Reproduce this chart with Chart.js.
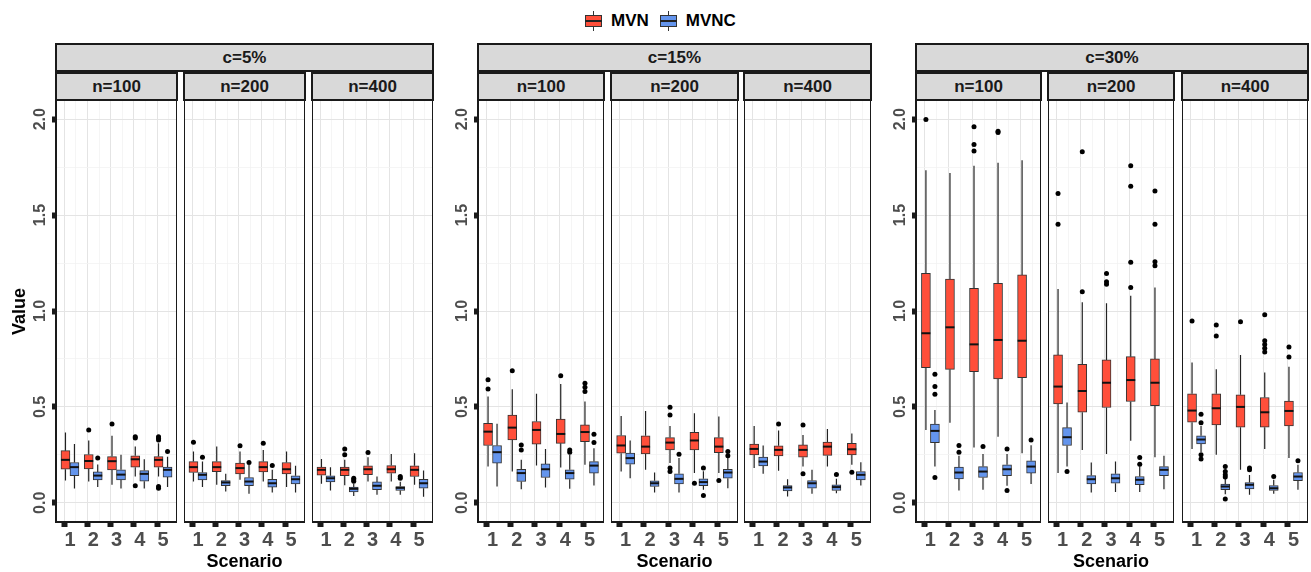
<!DOCTYPE html>
<html>
<head>
<meta charset="utf-8">
<script src="https://cdn.jsdelivr.net/npm/chart.js@4"></script>
<style>
  body { margin: 0; background: #fff; font-family: "Liberation Sans", Arial, sans-serif; }
  #wrap { position: relative; width: 1311px; height: 572px; overflow: hidden; }
  .strip { position: absolute; box-sizing: border-box; background: #d9d9d9; border: 2px solid #1a1a1a;
           font-weight: bold; font-size: 17px; color: #1a1a1a; display: flex; align-items: center; justify-content: center; }
  .lab { position: absolute; font-weight: bold; font-size: 18px; color: #000; white-space: nowrap; }
  #legend { position: absolute; left: 585px; top: 10px; height: 22px; display: flex; align-items: center;
            font-weight: bold; font-size: 17px; color: #000; }
  .key { position: relative; width: 17px; height: 20px; margin-right: 9px; }
  .key .wh { position: absolute; left: 8px; top: 0; width: 1px; height: 20px; background: #333; }
  .key .bx { position: absolute; left: 0; top: 4px; width: 17px; height: 12px; box-sizing: border-box; border: 1px solid #333; }
  .key .md { position: absolute; left: 0; top: 9px; width: 17px; height: 2px; background: #222; }
</style>
</head>
<body>
<div id="wrap">
  <div id="legend">
    <div class="key"><div class="wh"></div><div class="bx" style="background:#FF4F3A"></div><div class="md"></div></div>
    <span style="margin-right:11px">MVN</span>
    <div class="key"><div class="wh"></div><div class="bx" style="background:#6495ED"></div><div class="md"></div></div>
    <span>MVNC</span>
  </div>
</div>
<script>
const scenarios = [1, 2, 3, 4, 5];
const groupLabels = ['c=5%', 'c=15%', 'c=30%'];
const sizeLabels = ['n=100', 'n=200', 'n=400'];
const methods = ['MVN', 'MVNC'];

// each scenario: [lower whisker, Q1, median, Q3, upper whisker]
const c5_n100_mvn = [[0.116,0.175,0.224,0.272,0.366],[0.111,0.177,0.218,0.252,0.325],[0.094,0.172,0.217,0.241,0.349],[0.137,0.186,0.227,0.245,0.293],[0.137,0.186,0.224,0.241,0.31]];
const c5_n100_mvn_out = [[],[0.38],[0.411],[0.345,0.338,0.089],[0.345,0.337,0.328,0.085,0.076]];
const c5_n100_mvnc = [[0.075,0.142,0.186,0.21,0.307],[0.082,0.12,0.142,0.161,0.2],[0.075,0.12,0.147,0.172,0.25],[0.075,0.113,0.151,0.168,0.227],[0.082,0.134,0.172,0.186,0.24]];
const c5_n100_mvnc_out = [[],[0.233],[],[],[0.267]];

const c5_n200_mvn = [[0.111,0.158,0.186,0.215,0.267],[0.094,0.163,0.186,0.215,0.293],[0.12,0.151,0.181,0.207,0.267],[0.111,0.161,0.186,0.215,0.276],[0.082,0.151,0.175,0.21,0.267]];
const c5_n200_mvn_out = [[0.316],[],[0.297],[0.31],[]];
const c5_n200_mvnc = [[0.082,0.12,0.146,0.158,0.215],[0.059,0.089,0.106,0.116,0.151],[0.047,0.089,0.111,0.132,0.198],[0.054,0.082,0.102,0.123,0.172],[0.054,0.099,0.123,0.141,0.193]];
const c5_n200_mvnc_out = [[0.238],[],[0.21],[0.194],[]];

const c5_n400_mvn = [[0.099,0.144,0.172,0.186,0.229],[0.092,0.141,0.172,0.186,0.224],[0.111,0.147,0.175,0.193,0.238],[0.111,0.154,0.175,0.194,0.255],[0.094,0.137,0.172,0.193,0.259]];
const c5_n400_mvn_out = [[],[0.281,0.25],[0.262],[],[]];
const c5_n400_mvnc = [[0.064,0.109,0.128,0.141,0.186],[0.036,0.057,0.073,0.082,0.1],[0.042,0.068,0.089,0.109,0.137],[0.042,0.064,0.078,0.085,0.11],[0.031,0.076,0.102,0.123,0.168]];
const c5_n400_mvnc_out = [[],[0.128,0.12,0.112],[],[0.137,0.128],[]];

const c15_n100_mvn = [[0.189,0.299,0.371,0.415,0.554],[0.163,0.328,0.392,0.458,0.592],[0.194,0.306,0.38,0.424,0.568],[0.184,0.31,0.359,0.437,0.62],[0.198,0.319,0.369,0.406,0.528]];
const c15_n100_mvn_out = [[0.641,0.594],[0.689],[],[0.663],[0.623,0.602,0.58]];
const c15_n100_mvnc = [[0.085,0.207,0.264,0.299,0.412],[0.071,0.111,0.155,0.175,0.224],[0.08,0.132,0.175,0.203,0.281],[0.073,0.123,0.155,0.172,0.25],[0.09,0.155,0.194,0.215,0.285]];
const c15_n100_mvnc_out = [[],[0.302,0.276],[],[0.276,0.264],[0.358,0.314]];

const c15_n200_mvn = [[0.163,0.259,0.299,0.351,0.453],[0.172,0.255,0.293,0.349,0.479],[0.207,0.276,0.314,0.34,0.401],[0.155,0.276,0.325,0.368,0.467],[0.155,0.262,0.293,0.34,0.45]];
const c15_n200_mvn_out = [[],[],[0.498,0.458,0.181,0.163],[0.102],[0.116]];
const c15_n200_mvnc = [[0.128,0.201,0.233,0.259,0.325],[0.054,0.085,0.102,0.115,0.158],[0.054,0.099,0.125,0.151,0.233],[0.068,0.09,0.108,0.125,0.165],[0.076,0.128,0.158,0.175,0.233]];
const c15_n200_mvnc_out = [[],[],[0.253],[0.181,0.038],[0.267,0.245]];

const c15_n400_mvn = [[0.181,0.25,0.281,0.306,0.401],[0.167,0.245,0.276,0.297,0.377],[0.189,0.238,0.276,0.302,0.354],[0.189,0.247,0.293,0.316,0.385],[0.198,0.25,0.279,0.31,0.361]];
const c15_n400_mvn_out = [[],[0.411],[0.406,0.151],[],[0.16]];
const c15_n400_mvnc = [[0.151,0.193,0.215,0.238,0.299],[0.033,0.062,0.08,0.09,0.123],[0.047,0.076,0.102,0.116,0.172],[0.05,0.064,0.082,0.094,0.125],[0.09,0.12,0.146,0.163,0.212]];
const c15_n400_mvnc_out = [[],[],[],[0.148],[]];

const c30_n100_mvn = [[0.38,0.705,0.884,1.196,1.734],[0.418,0.696,0.915,1.167,1.72],[0.288,0.684,0.826,1.118,1.757],[0.345,0.646,0.849,1.144,1.773],[0.259,0.653,0.845,1.188,1.786]];
const c30_n100_mvn_out = [[1.998],[],[1.96,1.868,1.834],[1.937,1.93],[]];
const c30_n100_mvnc = [[0.189,0.314,0.375,0.41,0.484],[0.064,0.125,0.158,0.186,0.245],[0.068,0.132,0.163,0.189,0.255],[0.089,0.142,0.175,0.198,0.255],[0.098,0.155,0.189,0.219,0.3]];
const c30_n100_mvnc_out = [[0.67,0.606,0.566,0.132],[0.299,0.264],[0.293],[0.281,0.064],[0.328]];

const c30_n200_mvn = [[0.155,0.516,0.606,0.771,1.115],[0.276,0.472,0.583,0.722,1.045],[0.255,0.497,0.626,0.745,1.04],[0.323,0.528,0.64,0.762,1.08],[0.238,0.507,0.626,0.75,1.122]];
const c30_n200_mvn_out = [[1.613,1.452],[1.83,1.101],[1.196,1.153,1.139],[1.757,1.651,1.254,1.123],[1.625,1.452,1.257,1.236]];
const c30_n200_mvnc = [[0.189,0.299,0.342,0.392,0.523],[0.054,0.098,0.123,0.142,0.21],[0.056,0.102,0.128,0.151,0.215],[0.056,0.094,0.12,0.137,0.19],[0.071,0.141,0.172,0.189,0.246]];
const c30_n200_mvnc_out = [[0.163],[],[],[0.236,0.201],[]];

const c30_n400_mvn = [[0.281,0.42,0.481,0.568,0.731],[0.25,0.406,0.493,0.568,0.696],[0.172,0.394,0.5,0.563,0.771],[0.281,0.394,0.472,0.549,0.679],[0.233,0.401,0.479,0.531,0.71]];
const c30_n400_mvn_out = [[0.948],[0.927,0.87],[0.944],[0.98,0.845,0.825,0.806,0.786],[0.812,0.76]];
const c30_n400_mvnc = [[0.265,0.307,0.33,0.349,0.4],[0.045,0.068,0.085,0.098,0.125],[0.042,0.073,0.094,0.106,0.145],[0.047,0.064,0.076,0.09,0.12],[0.068,0.116,0.137,0.158,0.198]];
const c30_n400_mvnc_out = [[0.462,0.418,0.25,0.229],[0.189,0.163,0.146,0.135,0.02],[0.181,0.172],[0.137],[0.219]];

const series = [
  [[c5_n100_mvn, c5_n100_mvn_out, c5_n100_mvnc, c5_n100_mvnc_out],
   [c5_n200_mvn, c5_n200_mvn_out, c5_n200_mvnc, c5_n200_mvnc_out],
   [c5_n400_mvn, c5_n400_mvn_out, c5_n400_mvnc, c5_n400_mvnc_out]],
  [[c15_n100_mvn, c15_n100_mvn_out, c15_n100_mvnc, c15_n100_mvnc_out],
   [c15_n200_mvn, c15_n200_mvn_out, c15_n200_mvnc, c15_n200_mvnc_out],
   [c15_n400_mvn, c15_n400_mvn_out, c15_n400_mvnc, c15_n400_mvnc_out]],
  [[c30_n100_mvn, c30_n100_mvn_out, c30_n100_mvnc, c30_n100_mvnc_out],
   [c30_n200_mvn, c30_n200_mvn_out, c30_n200_mvnc, c30_n200_mvnc_out],
   [c30_n400_mvn, c30_n400_mvn_out, c30_n400_mvnc, c30_n400_mvnc_out]]
];

// layout (pixels)
const panelEdges = [[[56,177],[184,305],[312,433]], [[478,604],[611,738],[744,871]], [[916,1041],[1048,1174],[1182,1308]]];
const PANEL_TOP = 100, PANEL_BOTTOM = 522;
const colors = ['#FF4F3A', '#6495ED'];
const FONT = '"Liberation Sans", Arial, sans-serif';

const wrap = document.getElementById('wrap');
const isMajor = (v, step) => Math.abs(v / step - Math.round(v / step)) < 1e-6;
const onMajor = (c, step) => !!(c.tick && isMajor(c.tick.value, step));

const boxPlugin = {
  id: 'boxes',
  beforeDatasetsDraw(chart) {
    const ctx = chart.ctx, y = chart.scales.y;
    ctx.save();
    ctx.strokeStyle = '#222';
    ctx.lineWidth = 1.2;
    chart.data.datasets.forEach((ds, d) => {
      chart.getDatasetMeta(d).data.forEach((bar, i) => {
        const s = ds.stats[i];
        ctx.beginPath();
        ctx.moveTo(bar.x, y.getPixelForValue(s[0]));
        ctx.lineTo(bar.x, y.getPixelForValue(s[1]));
        ctx.moveTo(bar.x, y.getPixelForValue(s[3]));
        ctx.lineTo(bar.x, y.getPixelForValue(s[4]));
        ctx.stroke();
      });
    });
    ctx.restore();
  },
  afterDatasetsDraw(chart) {
    const ctx = chart.ctx, y = chart.scales.y;
    ctx.save();
    chart.data.datasets.forEach((ds, d) => {
      chart.getDatasetMeta(d).data.forEach((bar, i) => {
        const s = ds.stats[i];
        const my = y.getPixelForValue(s[2]);
        ctx.strokeStyle = '#111';
        ctx.lineWidth = 2;
        ctx.beginPath();
        ctx.moveTo(bar.x - bar.width / 2, my);
        ctx.lineTo(bar.x + bar.width / 2, my);
        ctx.stroke();
        ctx.fillStyle = '#000';
        ds.outliers[i].forEach(v => {
          ctx.beginPath();
          ctx.arc(bar.x, y.getPixelForValue(v), 2.5, 0, Math.PI * 2);
          ctx.fill();
        });
      });
    });
    ctx.restore();
  },
  afterDraw(chart) {
    const ctx = chart.ctx, a = chart.chartArea;
    ctx.save();
    ctx.strokeStyle = '#1a1a1a';
    ctx.lineWidth = 2;
    ctx.strokeRect(a.left, a.top, a.right - a.left, a.bottom - a.top);
    if (chart.options.showYLabels) {
      const y = chart.scales.y;
      ctx.fillStyle = '#4d4d4d';
      ctx.font = 'bold 16px ' + FONT;
      ctx.textAlign = 'center';
      ctx.textBaseline = 'middle';
      y.ticks.filter(t => isMajor(t.value, 0.5)).forEach(t => {
        ctx.save();
        ctx.translate(a.left - 15, y.getPixelForValue(t.value));
        ctx.rotate(-Math.PI / 2);
        ctx.fillText(t.value.toFixed(1), 0, 0);
        ctx.restore();
      });
    }
    ctx.restore();
  }
};

function addStrip(text, left, top, width, height) {
  const el = document.createElement('div');
  el.className = 'strip';
  el.style.cssText = `left:${left}px;top:${top}px;width:${width}px;height:${height}px`;
  el.textContent = text;
  wrap.appendChild(el);
}

function addLabel(text, cx, cy, rotate) {
  const el = document.createElement('div');
  el.className = 'lab';
  el.textContent = text;
  wrap.appendChild(el);
  const w = el.offsetWidth, h = el.offsetHeight;
  el.style.left = (cx - w / 2) + 'px';
  el.style.top = (cy - h / 2) + 'px';
  if (rotate) el.style.transform = 'rotate(-90deg)';
}

function drawFacet(gi, ni) {
  const [L, R] = panelEdges[gi][ni];
  const showY = ni === 0;
  const axisW = showY ? 30 : 0;
  const w = R - L + axisW, h = 572 - PANEL_TOP;
  const cv = document.createElement('canvas');
  cv.width = w; cv.height = h;
  cv.style.cssText = `position:absolute;left:${L - axisW}px;top:${PANEL_TOP}px;width:${w}px;height:${h}px`;
  wrap.appendChild(cv);
  const [mvn, mvnOut, mvnc, mvncOut] = series[gi][ni];
  const mk = (stats, outliers, k) => ({
    label: methods[k],
    data: scenarios.map((s, i) => ({ x: s, y: [stats[i][1], stats[i][3]] })),
    stats: stats,
    outliers: outliers,
    backgroundColor: colors[k],
    borderColor: '#333',
    borderWidth: 1,
    borderSkipped: false,
    barThickness: 9
  });
  new Chart(cv, {
    type: 'bar',
    data: { datasets: [mk(mvn, mvnOut, 0), mk(mvnc, mvncOut, 1)] },
    options: {
      responsive: false,
      animation: false,
      events: [],
      showYLabels: showY,
      layout: { padding: 0 },
      plugins: { legend: { display: false }, tooltip: { enabled: false } },
      scales: {
        x: {
          type: 'linear', min: 0.4, max: 5.6, offset: false,
          border: { display: false },
          ticks: {
            stepSize: 0.5, includeBounds: false, autoSkip: false, maxRotation: 0, padding: 1,
            color: '#4d4d4d', font: { family: FONT, size: 20, weight: 'bold' },
            callback: v => isMajor(v, 1) ? String(v) : ''
          },
          grid: {
            color: c => onMajor(c, 1) ? '#e4e4e4' : '#f2f2f2',
            lineWidth: c => onMajor(c, 1) ? 1 : 0.8,
            tickColor: c => onMajor(c, 1) ? '#1a1a1a' : 'rgba(0,0,0,0)',
            tickLength: 5, tickWidth: 6
          },
          afterFit: s => { s.height = 572 - PANEL_BOTTOM; }
        },
        y: {
          min: -0.1, max: 2.1,
          border: { display: false },
          ticks: { display: false, stepSize: 0.25, includeBounds: false },
          grid: {
            color: c => onMajor(c, 0.5) ? '#e4e4e4' : '#f2f2f2',
            lineWidth: c => onMajor(c, 0.5) ? 1 : 0.8,
            tickColor: c => onMajor(c, 0.5) ? '#1a1a1a' : 'rgba(0,0,0,0)',
            drawTicks: showY, tickLength: 4, tickWidth: 6
          },
          afterFit: s => { s.width = axisW; }
        }
      }
    },
    plugins: [boxPlugin]
  });
}

groupLabels.forEach((g, gi) => {
  const edges = panelEdges[gi];
  const left = edges[0][0] - 1, right = edges[2][1] + 1;
  addStrip(g, left, 43, right - left, 29);
  sizeLabels.forEach((n, ni) => {
    addStrip(n, edges[ni][0] - 1, 72, edges[ni][1] - edges[ni][0] + 2, 29);
    drawFacet(gi, ni);
  });
  addLabel('Scenario', (edges[1][0] + edges[1][1]) / 2, 561, false);
});
addLabel('Value', 19, 311, true);
</script>
</body>
</html>
